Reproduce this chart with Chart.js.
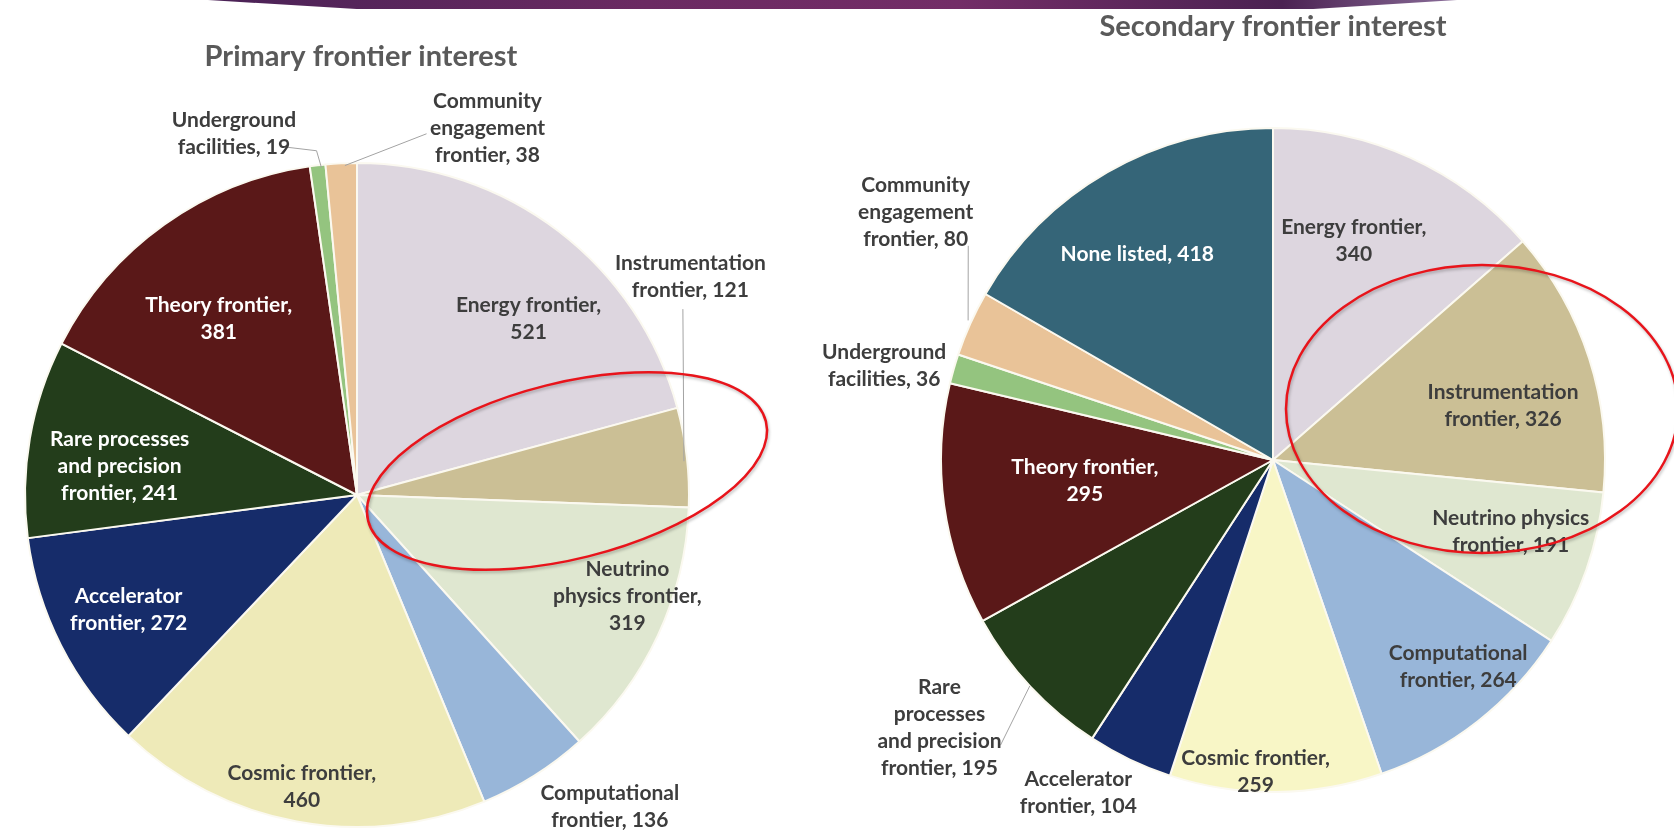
<!DOCTYPE html>
<html>
<head>
<meta charset="utf-8">
<script src="https://cdn.jsdelivr.net/npm/chart.js@4.4.1/dist/chart.umd.min.js"></script>
<style>
  html, body { margin: 0; padding: 0; background: #fff; overflow: hidden; }
  body { width: 1674px; height: 839px; position: relative; }
  #banner {
    position: absolute; left: 208px; top: 0; width: 1249px; height: 9px;
    background: linear-gradient(90deg, #4a2256 0%, #6b2a62 35%, #732d67 60%, #4b2252 86%, #8a6d99 100%);
    clip-path: polygon(0 0, 100% 0, 88.5% 100%, 11.9% 100%);
  }
  canvas { position: absolute; top: 0; }
  #primaryChart { left: 0; }
  #secondaryChart { left: 760px; }
</style>
</head>
<body>
<div id="banner"></div>
<canvas id="primaryChart" width="800" height="839"></canvas>
<canvas id="secondaryChart" width="914" height="839"></canvas>
<script>
// data
const primaryCategories = ['Energy frontier', 'Instrumentation frontier', 'Neutrino physics frontier',
  'Computational frontier', 'Cosmic frontier', 'Accelerator frontier',
  'Rare processes and precision frontier', 'Theory frontier', 'Underground facilities',
  'Community engagement frontier'];
const primaryValues = [521, 121, 319, 136, 460, 272, 241, 381, 19, 38];

const secondaryCategories = primaryCategories.concat(['None listed']);
const secondaryValues = [340, 326, 191, 264, 259, 104, 195, 295, 36, 80, 418];

const primaryTitle = 'Primary frontier interest';
const secondaryTitle = 'Secondary frontier interest';

// colours
const primaryColors = ['#ddd6df', '#cbbf95', '#dfe7d0', '#98b6d9', '#eeeab8', '#162c6a',
  '#233d1b', '#5a1818', '#94c47f', '#e9c398'];
const secondaryColors = ['#ddd6df', '#cbbf95', '#dfe7d0', '#98b6d9', '#f8f6c6', '#162c6a',
  '#233d1b', '#5a1818', '#94c47f', '#e9c398', '#356578'];

// label placement: angle from top (deg), radius factor, words per line, white text, leader points
const primaryLabelLayout = [
  { a: 44.3, r: 0.74, split: [2, 1] },
  { a: 56.8, r: 1.2, split: [1, 2], leader: [[60.3, 1.13], [84.1, 0.99]] },
  { a: 110.6, r: 0.87, split: [1, 2, 1] },
  { a: 141, r: 1.21, split: [1, 2] },
  { a: 190.7, r: 0.895, split: [2, 1] },
  { a: 243.3, r: 0.77, split: [1, 2], white: true },
  { a: 276.8, r: 0.72, split: [2, 2, 2], white: true },
  { a: 321.9, r: 0.675, split: [2, 1], white: true },
  { a: 341.2, r: 1.15, split: [1, 2], leader: [[347.6, 1.075], [353.3, 1.044], [353.8, 0.992]] },
  { a: 19.6, r: 1.172, split: [1, 1, 2], leader: [[10.9, 1.108], [357.9, 0.993]] }
];
const secondaryLabelLayout = [
  { a: 20.2, r: 0.705, split: [2, 1] },
  { a: 76.7, r: 0.712, split: [1, 2] },
  { a: 106.8, r: 0.748, split: [2, 2] },
  { a: 138.2, r: 0.837, split: [1, 2] },
  { a: 183.2, r: 0.941, split: [2, 1] },
  { a: 210.3, r: 1.162, split: [1, 2] },
  { a: 231.2, r: 1.289, split: [1, 1, 2, 2], leader: [[223.7, 1.188], [227.1, 1.0]] },
  { a: 263.8, r: 0.57, split: [2, 1], white: true },
  { a: 283.6, r: 1.205, split: [1, 2] },
  { a: 304.7, r: 1.309, split: [1, 1, 2], leader: [[305.1, 1.122], [294.6, 1.01]] },
  { a: 326.6, r: 0.743, split: [3], white: true }
];

const LINE_H = 27;

function makeLabelPlugin(layout, title, titleDx, titleY, ring) {
  return {
    id: 'sliceLabels',
    afterDatasetsDraw(chart) {
      const ctx = chart.ctx;
      const arc0 = chart.getDatasetMeta(0).data[0];
      const cx = arc0.x, cy = arc0.y, R = arc0.outerRadius;
      const polar = (a, r) => {
        const t = a * Math.PI / 180;
        return [cx + r * R * Math.sin(t), cy - r * R * Math.cos(t)];
      };
      const labels = chart.data.labels;
      const values = chart.data.datasets[0].data;
      ctx.save();

      // leader lines
      ctx.strokeStyle = '#a3a3a3';
      ctx.lineWidth = 1;
      layout.forEach(p => {
        if (!p.leader) return;
        ctx.beginPath();
        p.leader.forEach((pt, j) => {
          const [x, y] = polar(pt[0], pt[1]);
          if (j === 0) ctx.moveTo(x, y); else ctx.lineTo(x, y);
        });
        ctx.stroke();
      });

      // slice labels
      ctx.font = 'bold 21px Lato';
      ctx.textAlign = 'center';
      ctx.textBaseline = 'middle';
      layout.forEach((p, i) => {
        const words = (labels[i] + ', ' + values[i]).split(' ');
        const lines = [];
        let k = 0;
        p.split.forEach(n => { lines.push(words.slice(k, k + n).join(' ')); k += n; });
        const [x, y] = polar(p.a, p.r);
        ctx.fillStyle = p.white ? '#ffffff' : '#3d3d3d';
        const top = y - (lines.length - 1) * LINE_H / 2;
        lines.forEach((s, j) => ctx.fillText(s, x, top + j * LINE_H));
      });

      // title
      ctx.font = 'bold 29px Lato';
      ctx.fillStyle = '#5a5a5a';
      ctx.fillText(title, cx + titleDx, titleY);

      // red highlight ring
      ctx.beginPath();
      ctx.ellipse(cx + ring.dx, cy + ring.dy, ring.rx, ring.ry, ring.rot * Math.PI / 180, 0, Math.PI * 2);
      ctx.strokeStyle = '#e8141b';
      ctx.lineWidth = 2.5;
      ctx.shadowColor = 'rgba(0,0,0,0.25)';
      ctx.shadowBlur = 3;
      ctx.shadowOffsetX = 1;
      ctx.shadowOffsetY = 2;
      ctx.stroke();
      ctx.restore();
    }
  };
}

function makePie(canvasId, categories, values, colors, padding, plugin) {
  return new Chart(document.getElementById(canvasId), {
    type: 'pie',
    data: {
      labels: categories,
      datasets: [{
        data: values,
        backgroundColor: colors,
        borderColor: '#fbf9f0',
        borderWidth: 2,
        radius: 332
      }]
    },
    options: {
      responsive: false,
      animation: false,
      layout: { padding: padding },
      plugins: {
        legend: { display: false },
        tooltip: { enabled: false }
      }
    },
    plugins: [plugin]
  });
}

const primaryChart = makePie('primaryChart', primaryCategories, primaryValues, primaryColors,
  { left: 0, right: 86, top: 151, bottom: 0 },
  makeLabelPlugin(primaryLabelLayout, primaryTitle, 4, 57, { dx: 210, dy: -24, rx: 205, ry: 88, rot: -14 }));

const secondaryChart = makePie('secondaryChart', secondaryCategories, secondaryValues, secondaryColors,
  { left: 112, right: 0, top: 81, bottom: 0 },
  makeLabelPlugin(secondaryLabelLayout, secondaryTitle, 0, 27, { dx: 209, dy: -51, rx: 196, ry: 144, rot: 0 }));
</script>
</body>
</html>
